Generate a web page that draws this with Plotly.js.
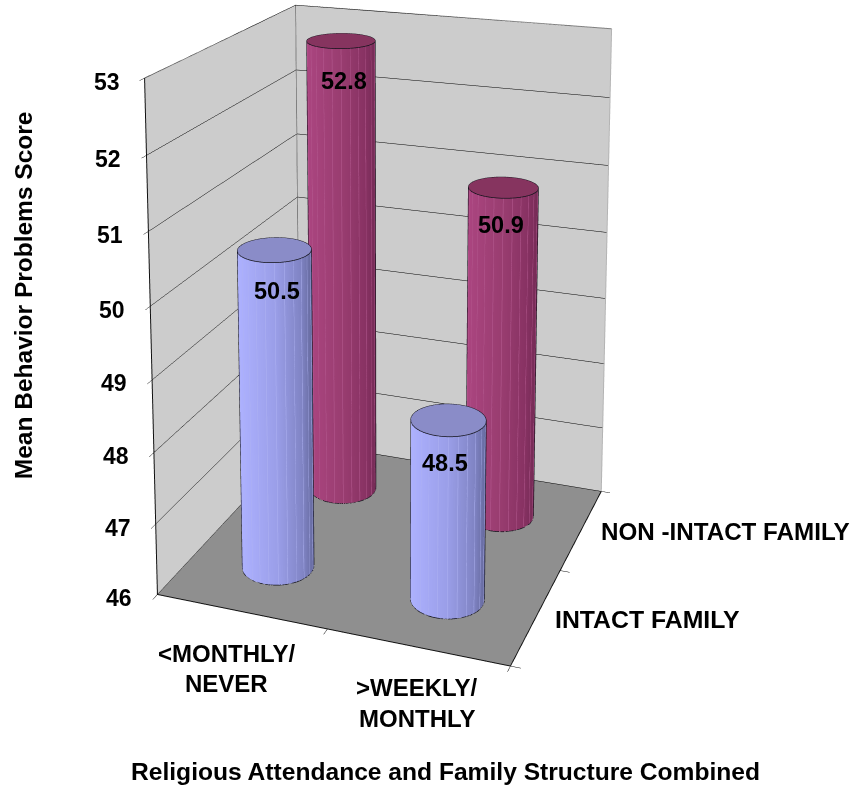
<!DOCTYPE html><html><head><script src="https://cdn.plot.ly/plotly-3.0.1.min.js"></script>
<style>html,body{margin:0;overflow:hidden;background:#fff;width:857px;height:786px}#p{position:absolute}</style></head><body><div id="p"></div>
<script>
// Chart data
var attendanceLabels=[['<MONTHLY/','NEVER'],['>WEEKLY/','MONTHLY']];
var familyLabels=['INTACT FAMILY','NON -INTACT FAMILY'];
var intact=[50.5,48.5];
var nonIntact=[52.8,50.9];
var zTicks=[46,47,48,49,50,51,52,53];
var xTitle='Religious Attendance and Family Structure Combined';
var zTitle='Mean Behavior Problems Score';

// Camera fitted to the reference's perspective. Plotly's field of view is fixed at 45 degrees,
// so the scene is taller than the window and the page clips it.
var eye=[1.6111,-4.4433,1.8279],center=[-0.0076,0.0034,0.9908],aspect=[1,0.9961,1.4476];
var focal=1762,px=390.2,py=-44.4;
var Hs=Math.round(2*focal*Math.tan(Math.PI/8)),W=Math.round(2*Math.max(px,857-px))+4;
var L=px-W/2,Tp=py-Hs/2,H=Math.ceil(790-Tp);
var d=document.getElementById('p');d.style.left=L+'px';d.style.top=Tp+'px';d.style.width=W+'px';d.style.height=H+'px';
function X(v){return (v-L)/W}function Y(v){return 1-(v-Tp)/H}

var traces=[],xr=attendanceLabels.length,yr=familyLabels.length,zMin=zTicks[0],zMax=zTicks[zTicks.length-1];
var flat={ambient:1,diffuse:0,specular:0,fresnel:0,roughness:1};
function cyl(cx,cy,v,colors,cap,stripe){
 var N=60,R=.2,sy=aspect[0]/aspect[1],ex=(eye[0]/aspect[0]+.5)*xr,ey=(eye[1]/aspect[1]+.5)*yr;
 var th0=Math.atan2(-(cx-ex),(cy-ey)/sy),t,j;
 function PX(t,k){return cx+k*R*Math.cos(t)}function PY(t,k){return cy+k*R*sy*Math.sin(t)}
 var xs=[],ys=[],zs=[],cs=[];
 [zMin,v].forEach(function(z){var a=[],b=[],cc=[],zz=[];for(j=0;j<=N;j++){t=2*Math.PI*j/N;a.push(PX(t,1));b.push(PY(t,1));cc.push((1+Math.cos(t-th0))/2);zz.push(z)}xs.push(a);ys.push(b);zs.push(zz);cs.push(cc)});
 traces.push({type:'surface',x:xs,y:ys,z:zs,surfacecolor:cs,cmin:0,cmax:1,colorscale:colors,showscale:false,hoverinfo:'skip',lighting:flat});
 var ca=[],cb=[],cz=[],cc=[];
 for(var k=0;k<2;k++){var ra=[],rb=[],rz=[],rc=[];for(j=0;j<=N;j++){t=2*Math.PI*j/N;ra.push(PX(t,k));rb.push(PY(t,k));rz.push(v);rc.push(.5)}ca.push(ra);cb.push(rb);cz.push(rz);cc.push(rc)}
 traces.push({type:'surface',x:ca,y:cb,z:cz,surfacecolor:cc,cmin:0,cmax:1,colorscale:[[0,cap],[1,cap]],showscale:false,hoverinfo:'skip',lighting:flat});
 // light facet stripes on the visible half
 var sx_=[],sy_=[],sz_=[];
 for(j=1;j<12;j++){t=th0-Math.PI*j/12;sx_.push(PX(t,1.003),PX(t,1.003),null);sy_.push(PY(t,1.003),PY(t,1.003),null);sz_.push(zMin,v,null)}
 traces.push({type:'scatter3d',mode:'lines',x:sx_,y:sy_,z:sz_,line:{color:stripe,width:1},hoverinfo:'skip',showlegend:false});
 // outline
 var lx=[],ly=[],lz=[];
 for(j=0;j<=N;j++){t=2*Math.PI*j/N;lx.push(PX(t,1.005));ly.push(PY(t,1.005));lz.push(v)}
 lx.push(null);ly.push(null);lz.push(null);
 [th0,th0+Math.PI].forEach(function(t){lx.push(PX(t,1.005),PX(t,1.005),null);ly.push(PY(t,1.005),PY(t,1.005),null);lz.push(zMin,v,null)});
 for(j=0;j<=24;j++){t=th0-Math.PI*j/24;lx.push(PX(t,1.005));ly.push(PY(t,1.005));lz.push(zMin)}
 traces.push({type:'scatter3d',mode:'lines',x:lx,y:ly,z:lz,line:{color:'#14141c',width:1.5},hoverinfo:'skip',showlegend:false});
}
var blue=[[0,'#adb1ff'],[.5,'#9a9ee8'],[.85,'#8084c4'],[1,'#666a9e']],red=[[0,'#ab4580'],[.5,'#993d70'],[.85,'#883263'],[1,'#752b56']];
intact.forEach(function(v,i){cyl(i+.5,.5,v,blue,'#8a8cc8','#aeb2f2')});
nonIntact.forEach(function(v,i){cyl(i+.5,1.5,v,red,'#86345f','#b65c92')});
traces.push({type:'scatter3d',mode:'lines',x:[0,0,xr,null,0,0],y:[0,yr,yr,null,yr,yr],z:[zMax,zMax,zMax,null,zMin,zMax],line:{color:'#808080',width:2},hoverinfo:'skip',showlegend:false});
traces.push({type:'scatter3d',mode:'lines',x:[xr,xr],y:[yr,yr],z:[zMax,zMin],line:{color:'#b4b4b4',width:2},hoverinfo:'skip',showlegend:false});

var ann3=[];
zTicks.forEach(function(z){ann3.push({x:0,y:0,z:z,text:'<b>'+z+'</b>',showarrow:false,xshift:-38,yshift:-3.5,font:{family:'Liberation Sans',size:23,color:'#000'}})});
function lab(x,y,v,dx,dy){ann3.push({x:x,y:y,z:v,text:'<b>'+v+'</b>',showarrow:false,xshift:dx,yshift:dy,font:{family:'Liberation Sans',size:23.5,color:'#000'}})}
lab(.5,.5,intact[0],3,-41);lab(.5,1.5,nonIntact[0],3,-40);lab(1.5,.5,intact[1],-3,-43);lab(1.5,1.5,nonIntact[1],-2,-38);
var ann=[];
function t2(s,x,y,sz,ang){ann.push({xref:'paper',yref:'paper',x:X(x),y:Y(y),text:'<b>'+s.replace('<','&lt;').replace('>','&gt;')+'</b>',showarrow:false,textangle:ang||0,xanchor:'center',yanchor:'middle',font:{family:'Liberation Sans',size:sz,color:'#000'}})}
t2(xTitle,445.5,771,24.6);
t2(zTitle,24,295,24.5,-90);
t2(attendanceLabels[0][0],227,653,24);t2(attendanceLabels[0][1],226.5,683,24);
t2(attendanceLabels[1][0],416.5,687,24);t2(attendanceLabels[1][1],417,718,24);
t2(familyLabels[1],725.5,531,24.2);t2(familyLabels[0],647.5,619,24.8);

var ax={showgrid:false,zeroline:false,showline:true,linecolor:'#111',linewidth:2,showticklabels:false,ticks:'outside',ticklen:8,tickcolor:'#111',title:{text:''},showspikes:false};
Plotly.newPlot('p',traces,{width:W,height:H,margin:{l:0,r:0,t:0,b:0},showlegend:false,paper_bgcolor:'#fff',annotations:ann,
 scene:{domain:{x:[0,1],y:[1-Hs/H,1]},annotations:ann3,
  xaxis:Object.assign({},ax,{range:[0,xr],tickvals:[0,1,2],showbackground:true,backgroundcolor:'#cccccc'}),
  yaxis:Object.assign({},ax,{range:[0,yr],tickvals:[0,1,2],showbackground:true,backgroundcolor:'#cccccc'}),
  zaxis:Object.assign({},ax,{range:[zMin,zMax],tickvals:zTicks,showgrid:true,gridcolor:'#000',gridwidth:1,showbackground:true,backgroundcolor:'#8f8f8f'}),
  aspectmode:'manual',aspectratio:{x:aspect[0],y:aspect[1],z:aspect[2]},camera:{eye:{x:eye[0],y:eye[1],z:eye[2]},center:{x:center[0],y:center[1],z:center[2]},up:{x:0,y:0,z:1},projection:{type:'perspective'}}}},{displayModeBar:false});
</script></body></html>
